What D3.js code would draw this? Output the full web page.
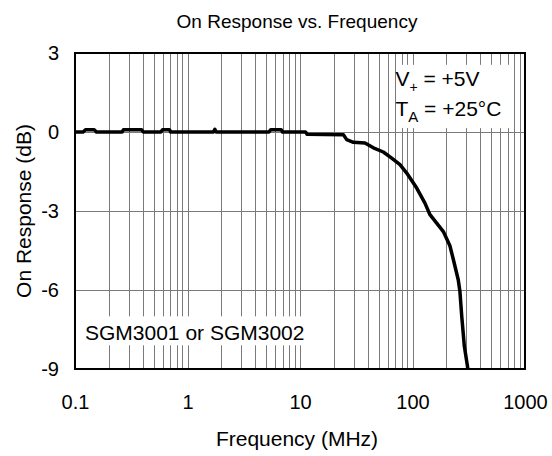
<!DOCTYPE html>
<html>
<head>
<meta charset="utf-8">
<script src="https://cdn.jsdelivr.net/npm/d3@7"></script>
<style>
  body { margin: 0; background: #fff; }
  svg { font-family: "Liberation Sans", Arial, sans-serif; }
</style>
</head>
<body>
<script>
// Data
var freqMHz = [0.1, 0.118, 0.124, 0.148, 0.155, 0.262, 0.27, 0.39, 0.405, 0.58, 0.6, 0.69, 0.71,
               1.7, 1.75, 1.8, 5.3, 5.5, 6.8, 7.0, 11.2, 11.6, 24.3, 26, 29.8, 37.8, 44.9, 55,
               65.3, 77.4, 88.8, 109, 129, 143, 164, 188, 215, 231, 255, 264, 274, 289, 310];
var responseDb = [0, 0, 0.09, 0.09, 0, 0, 0.09, 0.09, 0, 0, 0.09, 0.09, 0,
                  0, 0.1, 0, 0, 0.09, 0.09, 0, 0, -0.09, -0.1, -0.29, -0.39, -0.42, -0.6, -0.76,
                  -0.99, -1.24, -1.56, -2.13, -2.7, -3.14, -3.46, -3.78, -4.32, -4.85, -5.61, -6.06, -7.0, -8.14, -8.97];

var xTicks = [0.1, 1, 10, 100, 1000];
var xTickLabels = ["0.1", "1", "10", "100", "1000"];
var yTicks = [3, 0, -3, -6, -9];
var yTickLabels = ["3", "0", "-3", "-6", "-9"];

// Set graph dimensions and margins
var margin = {top: 53, right: 27, bottom: 87, left: 75},
    width = 552 - margin.left - margin.right,
    height = 456 - margin.top - margin.bottom;

var data = freqMHz.map(function(f, i) {
  return {f: f, db: responseDb[i]};
});

// Set ranges
var x = d3.scaleLog()
    .domain([0.1, 1000])
    .range([0, width]);
var y = d3.scaleLinear()
    .domain([-9, 3])
    .range([height, 0]);

var svg = d3.select("body").append("svg")
    .attr("width", width + margin.left + margin.right)
    .attr("height", height + margin.top + margin.bottom)
  .append("g")
    .attr("transform", "translate(" + margin.left + "," + margin.top + ")");

// Minor + major vertical grid (1..9 per decade)
var gridX = [];
d3.range(-1, 3).forEach(function(p) {
  d3.range(1, 10).forEach(function(m) {
    gridX.push(m * Math.pow(10, p));
  });
});

svg.append("g")
    .attr("class", "grid")
    .attr("transform", "translate(0," + height + ")")
    .call(d3.axisBottom(x).tickValues(gridX).tickSize(-height).tickFormat(""))
    .call(function(g) { g.select(".domain").remove(); });

svg.append("g")
    .attr("class", "grid")
    .call(d3.axisLeft(y).tickValues(yTicks).tickSize(-width).tickFormat(""))
    .call(function(g) { g.select(".domain").remove(); });

svg.selectAll(".grid line")
    .attr("stroke", "#7a7a7a")
    .attr("stroke-width", 1)
    .attr("shape-rendering", "crispEdges");

// White annotation boxes over the grid
svg.append("rect")
    .attr("x", x(72))
    .attr("y", y(2.55))
    .attr("width", x(790) - x(72))
    .attr("height", y(0.15) - y(2.55))
    .attr("fill", "#fff");

svg.append("rect")
    .attr("x", 1)
    .attr("y", y(-7.0))
    .attr("width", x(11.1) - 1)
    .attr("height", y(-8.1) - y(-7.0))
    .attr("fill", "#fff");

// Response line
svg.append("defs").append("clipPath")
    .attr("id", "clip")
  .append("rect")
    .attr("width", width)
    .attr("height", height);

var line = d3.line()
    .x(function(d) { return x(d.f); })
    .y(function(d) { return y(d.db); });

svg.append("path")
    .datum(data)
    .attr("clip-path", "url(#clip)")
    .attr("fill", "none")
    .attr("stroke", "#000")
    .attr("stroke-width", 3.5)
    .attr("stroke-linejoin", "round")
    .attr("d", line);

// Plot border
svg.append("rect")
    .attr("width", width)
    .attr("height", height)
    .attr("fill", "none")
    .attr("stroke", "#000")
    .attr("stroke-width", 2);

// X axis labels
var xAxis = svg.append("g")
    .attr("transform", "translate(0," + height + ")")
    .call(d3.axisBottom(x).tickValues(xTicks).tickSize(0).tickPadding(26)
      .tickFormat(function(d, i) { return xTickLabels[i]; }));
xAxis.select(".domain").remove();
xAxis.selectAll("text")
    .attr("fill", "#000")
    .style("font-size", "20px")
    .style("font-family", "'Liberation Sans', Arial, sans-serif");

// Y axis labels
var yAxis = svg.append("g")
    .call(d3.axisLeft(y).tickValues(yTicks).tickSize(0).tickPadding(16)
      .tickFormat(function(d, i) { return yTickLabels[i]; }));
yAxis.select(".domain").remove();
yAxis.selectAll("text")
    .attr("fill", "#000")
    .style("font-size", "20px")
    .style("font-family", "'Liberation Sans', Arial, sans-serif");

// Annotations
var note = svg.append("g")
    .style("font-size", "21px")
    .attr("fill", "#000");

var v = note.append("text")
    .attr("x", x(72) - 1)
    .attr("y", y(1.74));
v.append("tspan").text("V");
v.append("tspan").attr("dy", 6).style("font-size", "14px").text("+");
v.append("tspan").attr("dy", -6).text(" = +5V");

var t = note.append("text")
    .attr("x", x(72) - 1)
    .attr("y", y(0.6));
t.append("tspan").text("T");
t.append("tspan").attr("dy", 6).style("font-size", "15px").text("A");
t.append("tspan").attr("dy", -6).text(" = +25°C");

note.append("text")
    .attr("x", 10)
    .attr("y", y(-7.9))
    .text("SGM3001 or SGM3002");

// Title
svg.append("text")
    .attr("x", width / 2 - 3)
    .attr("y", 28 - margin.top)
    .attr("text-anchor", "middle")
    .style("font-size", "19px")
    .text("On Response vs. Frequency");

// X axis title
svg.append("text")
    .attr("x", width / 2 - 3)
    .attr("y", 446 - margin.top)
    .attr("text-anchor", "middle")
    .style("font-size", "21px")
    .text("Frequency (MHz)");

// Y axis title
svg.append("text")
    .attr("transform", "translate(" + (31 - margin.left) + "," + (height / 2) + ") rotate(-90)")
    .attr("text-anchor", "middle")
    .style("font-size", "21px")
    .text("On Response (dB)");
</script>
</body>
</html>
